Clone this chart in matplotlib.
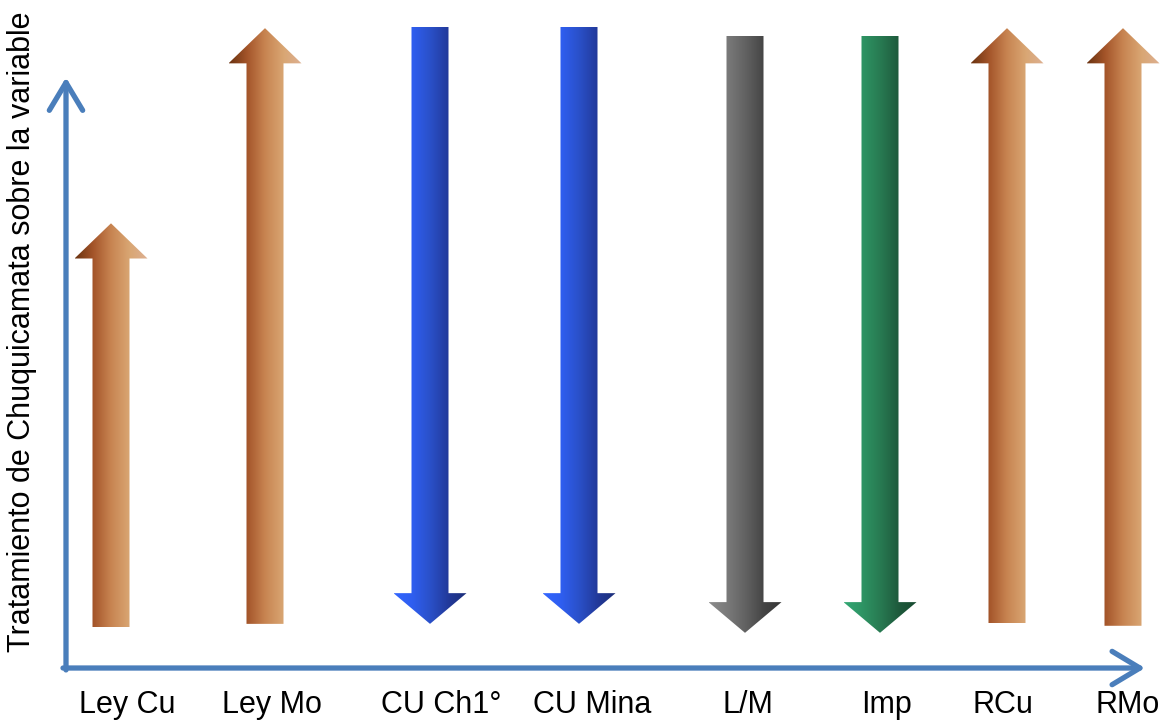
import numpy as np
import matplotlib
matplotlib.use('Agg')
import matplotlib.pyplot as plt
from matplotlib.patches import Polygon
from matplotlib.colors import LinearSegmentedColormap

# datos: cada variable, de donde parte la flecha y hasta donde llega (sube o baja)
categorias = ['Ley Cu', 'Ley Mo', 'CU Ch1°', 'CU Mina', 'L/M', 'Imp', 'RCu', 'RMo']
inicio = [6.4, 6.9, 100.2, 100.2, 98.8, 98.8, 7.0, 6.6]
fin = [69.5, 100.0, 6.9, 6.9, 5.5, 5.5, 100.0, 100.0]
grupo = ['cafe', 'cafe', 'azul', 'azul', 'gris', 'verde', 'cafe', 'cafe']

# posicion horizontal de cada flecha y de su etiqueta
x_flecha = [111, 265, 430, 579, 745, 880, 1007, 1123]
x_etiqueta = [127, 272, 441, 592, 748, 886, 1003, 1128]

colores = {
    'cafe': ['#6a3210', '#a4552a', '#c88552', '#d9a673', '#ddb092'],
    'azul': ['#3366ff', '#2f5ef0', '#2a50c8', '#22399a', '#1c2e78'],
    'gris': ['#8c8c8c', '#7a7a7a', '#626262', '#454545', '#363636'],
    'verde': ['#33a874', '#2e9464', '#287a52', '#1e5a3c', '#174a30'],
}
cmaps = {k: LinearSegmentedColormap.from_list(k, v) for k, v in colores.items()}

azul_eje = '#4a7ebb'
ancho_cuerpo = 37
ancho_punta = 73


def flecha(ax, x, y0, y1, cmap):
    sube = y1 > y0
    largo = 5.5 if sube else 4.8
    yb = y1 - largo if sube else y1 + largo
    verts = [(x - ancho_cuerpo / 2, y0), (x + ancho_cuerpo / 2, y0),
             (x + ancho_cuerpo / 2, yb), (x + ancho_punta / 2, yb),
             (x, y1), (x - ancho_punta / 2, yb), (x - ancho_cuerpo / 2, yb)]
    poly = Polygon(verts, closed=True, facecolor='none', edgecolor='none')
    ax.add_patch(poly)
    grad = np.linspace(0, 1, 256).reshape(1, -1)
    im = ax.imshow(grad, cmap=cmap, aspect='auto', interpolation='bilinear',
                   extent=[x - ancho_punta / 2, x + ancho_punta / 2,
                           min(y0, y1), max(y0, y1)], origin='lower')
    im.set_clip_path(poly)


plt.rcParams['font.family'] = ['Liberation Sans', 'DejaVu Sans']

fig = plt.figure(figsize=(11.68, 7.21), dpi=100)
ax = fig.add_axes([0, 0, 1, 1])

for xc, a, b, g in zip(x_flecha, inicio, fin, grupo):
    flecha(ax, xc, a, b, cmaps[g])

# ejes con punta abierta
props = dict(arrowstyle='->,head_length=1.0,head_width=0.6', lw=3.8,
             color=azul_eje, mutation_scale=20, shrinkA=0, shrinkB=0,
             capstyle='round', joinstyle='round')
ax.annotate('', xy=(66, 92.3), xytext=(66, -0.3), arrowprops=props)
ax.annotate('', xy=(1145, 0), xytext=(63, 0), arrowprops=props)

for xc, lab in zip(x_etiqueta, categorias):
    ax.text(xc, -5.8, lab, ha='center', va='center', fontsize=22)

ax.text(22, 52.5, 'Tratamiento de Chuquicamata sobre la variable', rotation=90,
        ha='center', va='center', fontsize=22)

ax.set_xlim(0, 1168)
ax.set_ylim(-8.28, 104.4)
ax.axis('off')

fig.savefig('out.png', dpi=100)
